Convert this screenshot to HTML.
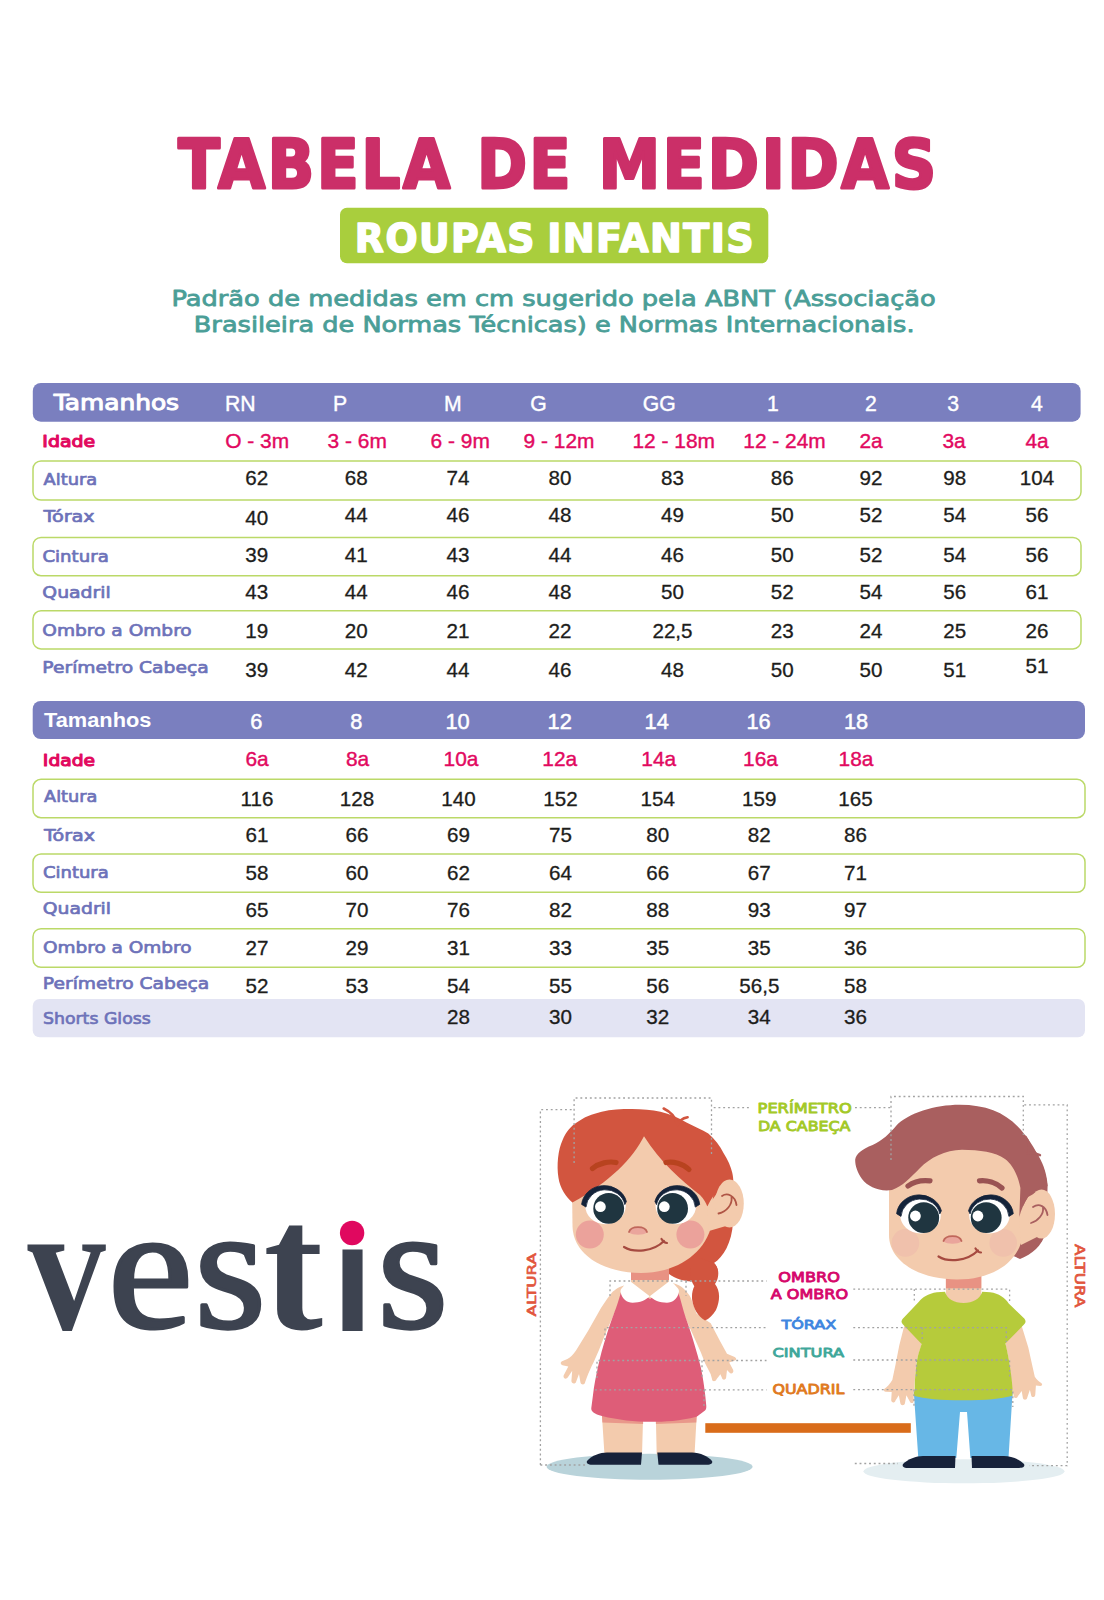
<!DOCTYPE html>
<html lang="pt-BR">
<head>
<meta charset="utf-8">
<title>Tabela de Medidas - Roupas Infantis</title>
<style>
html,body{margin:0;padding:0;background:#ffffff;}
body{width:1104px;height:1600px;overflow:hidden;}
svg{display:block;}
text{white-space:pre;}
</style>
</head>
<body>
<svg width="1104" height="1600" viewBox="0 0 1104 1600">
<rect width="1104" height="1600" fill="#ffffff"/>
<text transform="translate(178.32,187.99) scale(0.9236,1.0140)" fill="#cb2f68" stroke="#cb2f68" stroke-width="3" stroke-linejoin="round" font-size="66" font-family='"DejaVu Sans", "Liberation Sans", sans-serif' font-weight="bold" letter-spacing="3">TABELA</text>
<text transform="translate(477.16,187.99) scale(0.9074,1.0140)" fill="#cb2f68" stroke="#cb2f68" stroke-width="3" stroke-linejoin="round" font-size="66" font-family='"DejaVu Sans", "Liberation Sans", sans-serif' font-weight="bold" letter-spacing="3">DE</text>
<text transform="translate(598.73,187.99) scale(0.9337,1.0140)" fill="#cb2f68" stroke="#cb2f68" stroke-width="3" stroke-linejoin="round" font-size="66" font-family='"DejaVu Sans", "Liberation Sans", sans-serif' font-weight="bold" letter-spacing="3">MEDIDAS</text>
<rect x="340" y="207.8" width="428.3" height="55.5" rx="7" fill="#a9ce3d"/>
<text transform="translate(354.86,252.33) scale(0.9454,0.9688)" fill="#ffffff" stroke="#ffffff" stroke-width="1.6" stroke-linejoin="round" font-size="40" font-family='"DejaVu Sans", "Liberation Sans", sans-serif' font-weight="bold" letter-spacing="1.5">ROUPAS</text>
<text transform="translate(547.24,252.33) scale(0.9519,0.9688)" fill="#ffffff" stroke="#ffffff" stroke-width="1.6" stroke-linejoin="round" font-size="40" font-family='"DejaVu Sans", "Liberation Sans", sans-serif' font-weight="bold" letter-spacing="1.5">INFANTIS</text>
<text transform="translate(171.41,305.80) scale(1.1950,1.0000)" fill="#4a9e97" stroke="#4a9e97" stroke-width="0.8" stroke-linejoin="round" font-size="21.5" font-family='"DejaVu Sans", "Liberation Sans", sans-serif'>Padrão de medidas em cm sugerido pela ABNT (Associação</text>
<text transform="translate(193.82,332.20) scale(1.1907,1.0000)" fill="#4a9e97" stroke="#4a9e97" stroke-width="0.8" stroke-linejoin="round" font-size="21.5" font-family='"DejaVu Sans", "Liberation Sans", sans-serif'>Brasileira de Normas Técnicas) e Normas Internacionais.</text>
<rect x="32.8" y="383" width="1047.8" height="38.7" rx="8" fill="#7a7fbf"/>
<text transform="translate(53.77,410.20) scale(1.1667,1.0000)" fill="#ffffff" stroke="#ffffff" stroke-width="1.0" stroke-linejoin="round" font-size="21.3" font-family='"DejaVu Sans", "Liberation Sans", sans-serif'>Tamanhos</text>
<rect x="33" y="461" width="1048" height="39.0" rx="8" fill="none" stroke="#bbd968" stroke-width="1.5"/>
<rect x="33" y="537.5" width="1048" height="38.2" rx="8" fill="none" stroke="#bbd968" stroke-width="1.5"/>
<rect x="33" y="610.8" width="1048" height="38.1" rx="8" fill="none" stroke="#bbd968" stroke-width="1.5"/>
<text x="240.2" y="410.8" font-size="21.2" fill="#ffffff" font-family='"Liberation Sans", sans-serif' text-anchor="middle" stroke="#ffffff" stroke-width="0.4">RN</text>
<text x="340" y="410.8" font-size="21.2" fill="#ffffff" font-family='"Liberation Sans", sans-serif' text-anchor="middle" stroke="#ffffff" stroke-width="0.4">P</text>
<text x="452.9" y="410.8" font-size="21.2" fill="#ffffff" font-family='"Liberation Sans", sans-serif' text-anchor="middle" stroke="#ffffff" stroke-width="0.4">M</text>
<text x="538.4" y="410.8" font-size="21.2" fill="#ffffff" font-family='"Liberation Sans", sans-serif' text-anchor="middle" stroke="#ffffff" stroke-width="0.4">G</text>
<text x="659.2" y="410.8" font-size="21.2" fill="#ffffff" font-family='"Liberation Sans", sans-serif' text-anchor="middle" stroke="#ffffff" stroke-width="0.4">GG</text>
<text x="773" y="410.8" font-size="21.2" fill="#ffffff" font-family='"Liberation Sans", sans-serif' text-anchor="middle" stroke="#ffffff" stroke-width="0.4">1</text>
<text x="871" y="410.8" font-size="21.2" fill="#ffffff" font-family='"Liberation Sans", sans-serif' text-anchor="middle" stroke="#ffffff" stroke-width="0.4">2</text>
<text x="953.2" y="410.8" font-size="21.2" fill="#ffffff" font-family='"Liberation Sans", sans-serif' text-anchor="middle" stroke="#ffffff" stroke-width="0.4">3</text>
<text x="1037" y="410.8" font-size="21.2" fill="#ffffff" font-family='"Liberation Sans", sans-serif' text-anchor="middle" stroke="#ffffff" stroke-width="0.4">4</text>
<text x="257.2" y="448.2" font-size="20.9" fill="#e2095f" font-family='"Liberation Sans", sans-serif' text-anchor="middle" stroke="#e2095f" stroke-width="0.4">O - 3m</text>
<text x="357.2" y="448.2" font-size="20.9" fill="#e2095f" font-family='"Liberation Sans", sans-serif' text-anchor="middle" stroke="#e2095f" stroke-width="0.4">3 - 6m</text>
<text x="460.2" y="448.2" font-size="20.9" fill="#e2095f" font-family='"Liberation Sans", sans-serif' text-anchor="middle" stroke="#e2095f" stroke-width="0.4">6 - 9m</text>
<text x="559" y="448.2" font-size="20.9" fill="#e2095f" font-family='"Liberation Sans", sans-serif' text-anchor="middle" stroke="#e2095f" stroke-width="0.4">9 - 12m</text>
<text x="673.7" y="448.2" font-size="20.9" fill="#e2095f" font-family='"Liberation Sans", sans-serif' text-anchor="middle" stroke="#e2095f" stroke-width="0.4">12 - 18m</text>
<text x="784.5" y="448.2" font-size="20.9" fill="#e2095f" font-family='"Liberation Sans", sans-serif' text-anchor="middle" stroke="#e2095f" stroke-width="0.4">12 - 24m</text>
<text x="871" y="448.2" font-size="20.9" fill="#e2095f" font-family='"Liberation Sans", sans-serif' text-anchor="middle" stroke="#e2095f" stroke-width="0.4">2a</text>
<text x="954" y="448.2" font-size="20.9" fill="#e2095f" font-family='"Liberation Sans", sans-serif' text-anchor="middle" stroke="#e2095f" stroke-width="0.4">3a</text>
<text x="1037" y="448.2" font-size="20.9" fill="#e2095f" font-family='"Liberation Sans", sans-serif' text-anchor="middle" stroke="#e2095f" stroke-width="0.4">4a</text>
<text x="256.7" y="485" font-size="20.6" fill="#1d1d1b" font-family='"Liberation Sans", sans-serif' text-anchor="middle" stroke="#1d1d1b" stroke-width="0.3">62</text>
<text x="356.3" y="485" font-size="20.6" fill="#1d1d1b" font-family='"Liberation Sans", sans-serif' text-anchor="middle" stroke="#1d1d1b" stroke-width="0.3">68</text>
<text x="458" y="485" font-size="20.6" fill="#1d1d1b" font-family='"Liberation Sans", sans-serif' text-anchor="middle" stroke="#1d1d1b" stroke-width="0.3">74</text>
<text x="560" y="485" font-size="20.6" fill="#1d1d1b" font-family='"Liberation Sans", sans-serif' text-anchor="middle" stroke="#1d1d1b" stroke-width="0.3">80</text>
<text x="672.5" y="485" font-size="20.6" fill="#1d1d1b" font-family='"Liberation Sans", sans-serif' text-anchor="middle" stroke="#1d1d1b" stroke-width="0.3">83</text>
<text x="782.3" y="485" font-size="20.6" fill="#1d1d1b" font-family='"Liberation Sans", sans-serif' text-anchor="middle" stroke="#1d1d1b" stroke-width="0.3">86</text>
<text x="871" y="485" font-size="20.6" fill="#1d1d1b" font-family='"Liberation Sans", sans-serif' text-anchor="middle" stroke="#1d1d1b" stroke-width="0.3">92</text>
<text x="954.7" y="485" font-size="20.6" fill="#1d1d1b" font-family='"Liberation Sans", sans-serif' text-anchor="middle" stroke="#1d1d1b" stroke-width="0.3">98</text>
<text x="1037" y="485" font-size="20.6" fill="#1d1d1b" font-family='"Liberation Sans", sans-serif' text-anchor="middle" stroke="#1d1d1b" stroke-width="0.3">104</text>
<text x="256.7" y="525" font-size="20.6" fill="#1d1d1b" font-family='"Liberation Sans", sans-serif' text-anchor="middle" stroke="#1d1d1b" stroke-width="0.3">40</text>
<text x="356.3" y="521.7" font-size="20.6" fill="#1d1d1b" font-family='"Liberation Sans", sans-serif' text-anchor="middle" stroke="#1d1d1b" stroke-width="0.3">44</text>
<text x="458" y="521.7" font-size="20.6" fill="#1d1d1b" font-family='"Liberation Sans", sans-serif' text-anchor="middle" stroke="#1d1d1b" stroke-width="0.3">46</text>
<text x="560" y="521.7" font-size="20.6" fill="#1d1d1b" font-family='"Liberation Sans", sans-serif' text-anchor="middle" stroke="#1d1d1b" stroke-width="0.3">48</text>
<text x="672.5" y="521.7" font-size="20.6" fill="#1d1d1b" font-family='"Liberation Sans", sans-serif' text-anchor="middle" stroke="#1d1d1b" stroke-width="0.3">49</text>
<text x="782.3" y="521.7" font-size="20.6" fill="#1d1d1b" font-family='"Liberation Sans", sans-serif' text-anchor="middle" stroke="#1d1d1b" stroke-width="0.3">50</text>
<text x="871" y="521.7" font-size="20.6" fill="#1d1d1b" font-family='"Liberation Sans", sans-serif' text-anchor="middle" stroke="#1d1d1b" stroke-width="0.3">52</text>
<text x="954.7" y="521.7" font-size="20.6" fill="#1d1d1b" font-family='"Liberation Sans", sans-serif' text-anchor="middle" stroke="#1d1d1b" stroke-width="0.3">54</text>
<text x="1037" y="521.7" font-size="20.6" fill="#1d1d1b" font-family='"Liberation Sans", sans-serif' text-anchor="middle" stroke="#1d1d1b" stroke-width="0.3">56</text>
<text x="256.7" y="562.3" font-size="20.6" fill="#1d1d1b" font-family='"Liberation Sans", sans-serif' text-anchor="middle" stroke="#1d1d1b" stroke-width="0.3">39</text>
<text x="356.3" y="562.3" font-size="20.6" fill="#1d1d1b" font-family='"Liberation Sans", sans-serif' text-anchor="middle" stroke="#1d1d1b" stroke-width="0.3">41</text>
<text x="458" y="562.3" font-size="20.6" fill="#1d1d1b" font-family='"Liberation Sans", sans-serif' text-anchor="middle" stroke="#1d1d1b" stroke-width="0.3">43</text>
<text x="560" y="562.3" font-size="20.6" fill="#1d1d1b" font-family='"Liberation Sans", sans-serif' text-anchor="middle" stroke="#1d1d1b" stroke-width="0.3">44</text>
<text x="672.5" y="562.3" font-size="20.6" fill="#1d1d1b" font-family='"Liberation Sans", sans-serif' text-anchor="middle" stroke="#1d1d1b" stroke-width="0.3">46</text>
<text x="782.3" y="562.3" font-size="20.6" fill="#1d1d1b" font-family='"Liberation Sans", sans-serif' text-anchor="middle" stroke="#1d1d1b" stroke-width="0.3">50</text>
<text x="871" y="562.3" font-size="20.6" fill="#1d1d1b" font-family='"Liberation Sans", sans-serif' text-anchor="middle" stroke="#1d1d1b" stroke-width="0.3">52</text>
<text x="954.7" y="562.3" font-size="20.6" fill="#1d1d1b" font-family='"Liberation Sans", sans-serif' text-anchor="middle" stroke="#1d1d1b" stroke-width="0.3">54</text>
<text x="1037" y="562.3" font-size="20.6" fill="#1d1d1b" font-family='"Liberation Sans", sans-serif' text-anchor="middle" stroke="#1d1d1b" stroke-width="0.3">56</text>
<text x="256.7" y="599.3" font-size="20.6" fill="#1d1d1b" font-family='"Liberation Sans", sans-serif' text-anchor="middle" stroke="#1d1d1b" stroke-width="0.3">43</text>
<text x="356.3" y="599.3" font-size="20.6" fill="#1d1d1b" font-family='"Liberation Sans", sans-serif' text-anchor="middle" stroke="#1d1d1b" stroke-width="0.3">44</text>
<text x="458" y="599.3" font-size="20.6" fill="#1d1d1b" font-family='"Liberation Sans", sans-serif' text-anchor="middle" stroke="#1d1d1b" stroke-width="0.3">46</text>
<text x="560" y="599.3" font-size="20.6" fill="#1d1d1b" font-family='"Liberation Sans", sans-serif' text-anchor="middle" stroke="#1d1d1b" stroke-width="0.3">48</text>
<text x="672.5" y="599.3" font-size="20.6" fill="#1d1d1b" font-family='"Liberation Sans", sans-serif' text-anchor="middle" stroke="#1d1d1b" stroke-width="0.3">50</text>
<text x="782.3" y="599.3" font-size="20.6" fill="#1d1d1b" font-family='"Liberation Sans", sans-serif' text-anchor="middle" stroke="#1d1d1b" stroke-width="0.3">52</text>
<text x="871" y="599.3" font-size="20.6" fill="#1d1d1b" font-family='"Liberation Sans", sans-serif' text-anchor="middle" stroke="#1d1d1b" stroke-width="0.3">54</text>
<text x="954.7" y="599.3" font-size="20.6" fill="#1d1d1b" font-family='"Liberation Sans", sans-serif' text-anchor="middle" stroke="#1d1d1b" stroke-width="0.3">56</text>
<text x="1037" y="599.3" font-size="20.6" fill="#1d1d1b" font-family='"Liberation Sans", sans-serif' text-anchor="middle" stroke="#1d1d1b" stroke-width="0.3">61</text>
<text x="256.7" y="638.3" font-size="20.6" fill="#1d1d1b" font-family='"Liberation Sans", sans-serif' text-anchor="middle" stroke="#1d1d1b" stroke-width="0.3">19</text>
<text x="356.3" y="638.3" font-size="20.6" fill="#1d1d1b" font-family='"Liberation Sans", sans-serif' text-anchor="middle" stroke="#1d1d1b" stroke-width="0.3">20</text>
<text x="458" y="638.3" font-size="20.6" fill="#1d1d1b" font-family='"Liberation Sans", sans-serif' text-anchor="middle" stroke="#1d1d1b" stroke-width="0.3">21</text>
<text x="560" y="638.3" font-size="20.6" fill="#1d1d1b" font-family='"Liberation Sans", sans-serif' text-anchor="middle" stroke="#1d1d1b" stroke-width="0.3">22</text>
<text x="672.5" y="638.3" font-size="20.6" fill="#1d1d1b" font-family='"Liberation Sans", sans-serif' text-anchor="middle" stroke="#1d1d1b" stroke-width="0.3">22,5</text>
<text x="782.3" y="638.3" font-size="20.6" fill="#1d1d1b" font-family='"Liberation Sans", sans-serif' text-anchor="middle" stroke="#1d1d1b" stroke-width="0.3">23</text>
<text x="871" y="638.3" font-size="20.6" fill="#1d1d1b" font-family='"Liberation Sans", sans-serif' text-anchor="middle" stroke="#1d1d1b" stroke-width="0.3">24</text>
<text x="954.7" y="638.3" font-size="20.6" fill="#1d1d1b" font-family='"Liberation Sans", sans-serif' text-anchor="middle" stroke="#1d1d1b" stroke-width="0.3">25</text>
<text x="1037" y="638.3" font-size="20.6" fill="#1d1d1b" font-family='"Liberation Sans", sans-serif' text-anchor="middle" stroke="#1d1d1b" stroke-width="0.3">26</text>
<text x="256.7" y="676.7" font-size="20.6" fill="#1d1d1b" font-family='"Liberation Sans", sans-serif' text-anchor="middle" stroke="#1d1d1b" stroke-width="0.3">39</text>
<text x="356.3" y="676.7" font-size="20.6" fill="#1d1d1b" font-family='"Liberation Sans", sans-serif' text-anchor="middle" stroke="#1d1d1b" stroke-width="0.3">42</text>
<text x="458" y="676.7" font-size="20.6" fill="#1d1d1b" font-family='"Liberation Sans", sans-serif' text-anchor="middle" stroke="#1d1d1b" stroke-width="0.3">44</text>
<text x="560" y="676.7" font-size="20.6" fill="#1d1d1b" font-family='"Liberation Sans", sans-serif' text-anchor="middle" stroke="#1d1d1b" stroke-width="0.3">46</text>
<text x="672.5" y="676.7" font-size="20.6" fill="#1d1d1b" font-family='"Liberation Sans", sans-serif' text-anchor="middle" stroke="#1d1d1b" stroke-width="0.3">48</text>
<text x="782.3" y="676.7" font-size="20.6" fill="#1d1d1b" font-family='"Liberation Sans", sans-serif' text-anchor="middle" stroke="#1d1d1b" stroke-width="0.3">50</text>
<text x="871" y="676.7" font-size="20.6" fill="#1d1d1b" font-family='"Liberation Sans", sans-serif' text-anchor="middle" stroke="#1d1d1b" stroke-width="0.3">50</text>
<text x="954.7" y="676.7" font-size="20.6" fill="#1d1d1b" font-family='"Liberation Sans", sans-serif' text-anchor="middle" stroke="#1d1d1b" stroke-width="0.3">51</text>
<text x="1037" y="673.3" font-size="20.6" fill="#1d1d1b" font-family='"Liberation Sans", sans-serif' text-anchor="middle" stroke="#1d1d1b" stroke-width="0.3">51</text>
<text transform="translate(42.35,447.00) scale(1.1467,1.0000)" fill="#e2095f" stroke="#e2095f" stroke-width="1.1" stroke-linejoin="round" font-size="16.5" font-family='"DejaVu Sans", "Liberation Sans", sans-serif'>Idade</text>
<text transform="translate(43.50,485.40) scale(1.0816,1.0000)" fill="#6d72b9" stroke="#6d72b9" stroke-width="0.7" stroke-linejoin="round" font-size="16.5" font-family='"DejaVu Sans", "Liberation Sans", sans-serif'>Altura</text>
<text transform="translate(43.50,522.30) scale(1.1636,1.0000)" fill="#6d72b9" stroke="#6d72b9" stroke-width="0.7" stroke-linejoin="round" font-size="16.5" font-family='"DejaVu Sans", "Liberation Sans", sans-serif'>Tórax</text>
<text transform="translate(42.40,561.80) scale(1.1000,1.0000)" fill="#6d72b9" stroke="#6d72b9" stroke-width="0.7" stroke-linejoin="round" font-size="16.5" font-family='"DejaVu Sans", "Liberation Sans", sans-serif'>Cintura</text>
<text transform="translate(42.36,598.00) scale(1.1414,1.0000)" fill="#6d72b9" stroke="#6d72b9" stroke-width="0.7" stroke-linejoin="round" font-size="16.5" font-family='"DejaVu Sans", "Liberation Sans", sans-serif'>Quadril</text>
<text transform="translate(42.37,635.50) scale(1.1260,1.0000)" fill="#6d72b9" stroke="#6d72b9" stroke-width="0.7" stroke-linejoin="round" font-size="16.5" font-family='"DejaVu Sans", "Liberation Sans", sans-serif'>Ombro a Ombro</text>
<text transform="translate(42.37,673.30) scale(1.1338,1.0000)" fill="#6d72b9" stroke="#6d72b9" stroke-width="0.7" stroke-linejoin="round" font-size="16.5" font-family='"DejaVu Sans", "Liberation Sans", sans-serif'>Perímetro Cabeça</text>
<rect x="32.7" y="701" width="1052.3" height="38" rx="8" fill="#7a7fbf"/>
<text transform="translate(44.00,726.70) scale(1.0392,1.0000)" fill="#ffffff" font-size="21" font-family='"Liberation Sans", sans-serif' font-weight="bold">Tamanhos</text>
<rect x="32.7" y="999" width="1052.3" height="38.3" rx="7" fill="#e3e4f3"/>
<rect x="33" y="779.3" width="1052" height="38.4" rx="8" fill="none" stroke="#bbd968" stroke-width="1.5"/>
<rect x="33" y="854" width="1052" height="38.3" rx="8" fill="none" stroke="#bbd968" stroke-width="1.5"/>
<rect x="33" y="928.7" width="1052" height="38.6" rx="8" fill="none" stroke="#bbd968" stroke-width="1.5"/>
<text x="256.3" y="728.8" font-size="21.8" fill="#ffffff" font-family='"Liberation Sans", sans-serif' text-anchor="middle" stroke="#ffffff" stroke-width="0.5">6</text>
<text x="356.3" y="728.8" font-size="21.8" fill="#ffffff" font-family='"Liberation Sans", sans-serif' text-anchor="middle" stroke="#ffffff" stroke-width="0.5">8</text>
<text x="457.5" y="728.8" font-size="21.8" fill="#ffffff" font-family='"Liberation Sans", sans-serif' text-anchor="middle" stroke="#ffffff" stroke-width="0.5">10</text>
<text x="559.7" y="728.8" font-size="21.8" fill="#ffffff" font-family='"Liberation Sans", sans-serif' text-anchor="middle" stroke="#ffffff" stroke-width="0.5">12</text>
<text x="656.7" y="728.8" font-size="21.8" fill="#ffffff" font-family='"Liberation Sans", sans-serif' text-anchor="middle" stroke="#ffffff" stroke-width="0.5">14</text>
<text x="758.5" y="728.8" font-size="21.8" fill="#ffffff" font-family='"Liberation Sans", sans-serif' text-anchor="middle" stroke="#ffffff" stroke-width="0.5">16</text>
<text x="856" y="728.8" font-size="21.8" fill="#ffffff" font-family='"Liberation Sans", sans-serif' text-anchor="middle" stroke="#ffffff" stroke-width="0.5">18</text>
<text x="257" y="765.5" font-size="20.9" fill="#e2095f" font-family='"Liberation Sans", sans-serif' text-anchor="middle" stroke="#e2095f" stroke-width="0.4">6a</text>
<text x="357.5" y="765.5" font-size="20.9" fill="#e2095f" font-family='"Liberation Sans", sans-serif' text-anchor="middle" stroke="#e2095f" stroke-width="0.4">8a</text>
<text x="461" y="765.5" font-size="20.9" fill="#e2095f" font-family='"Liberation Sans", sans-serif' text-anchor="middle" stroke="#e2095f" stroke-width="0.4">10a</text>
<text x="559.7" y="765.5" font-size="20.9" fill="#e2095f" font-family='"Liberation Sans", sans-serif' text-anchor="middle" stroke="#e2095f" stroke-width="0.4">12a</text>
<text x="658.7" y="765.5" font-size="20.9" fill="#e2095f" font-family='"Liberation Sans", sans-serif' text-anchor="middle" stroke="#e2095f" stroke-width="0.4">14a</text>
<text x="760.5" y="765.5" font-size="20.9" fill="#e2095f" font-family='"Liberation Sans", sans-serif' text-anchor="middle" stroke="#e2095f" stroke-width="0.4">16a</text>
<text x="856" y="765.5" font-size="20.9" fill="#e2095f" font-family='"Liberation Sans", sans-serif' text-anchor="middle" stroke="#e2095f" stroke-width="0.4">18a</text>
<text x="257" y="805.7" font-size="20.6" fill="#1d1d1b" font-family='"Liberation Sans", sans-serif' text-anchor="middle" stroke="#1d1d1b" stroke-width="0.3">116</text>
<text x="357" y="805.7" font-size="20.6" fill="#1d1d1b" font-family='"Liberation Sans", sans-serif' text-anchor="middle" stroke="#1d1d1b" stroke-width="0.3">128</text>
<text x="458.5" y="805.7" font-size="20.6" fill="#1d1d1b" font-family='"Liberation Sans", sans-serif' text-anchor="middle" stroke="#1d1d1b" stroke-width="0.3">140</text>
<text x="560.5" y="805.7" font-size="20.6" fill="#1d1d1b" font-family='"Liberation Sans", sans-serif' text-anchor="middle" stroke="#1d1d1b" stroke-width="0.3">152</text>
<text x="657.7" y="805.7" font-size="20.6" fill="#1d1d1b" font-family='"Liberation Sans", sans-serif' text-anchor="middle" stroke="#1d1d1b" stroke-width="0.3">154</text>
<text x="759.3" y="805.7" font-size="20.6" fill="#1d1d1b" font-family='"Liberation Sans", sans-serif' text-anchor="middle" stroke="#1d1d1b" stroke-width="0.3">159</text>
<text x="855.5" y="805.7" font-size="20.6" fill="#1d1d1b" font-family='"Liberation Sans", sans-serif' text-anchor="middle" stroke="#1d1d1b" stroke-width="0.3">165</text>
<text x="257" y="842.3" font-size="20.6" fill="#1d1d1b" font-family='"Liberation Sans", sans-serif' text-anchor="middle" stroke="#1d1d1b" stroke-width="0.3">61</text>
<text x="357" y="842.3" font-size="20.6" fill="#1d1d1b" font-family='"Liberation Sans", sans-serif' text-anchor="middle" stroke="#1d1d1b" stroke-width="0.3">66</text>
<text x="458.5" y="842.3" font-size="20.6" fill="#1d1d1b" font-family='"Liberation Sans", sans-serif' text-anchor="middle" stroke="#1d1d1b" stroke-width="0.3">69</text>
<text x="560.5" y="842.3" font-size="20.6" fill="#1d1d1b" font-family='"Liberation Sans", sans-serif' text-anchor="middle" stroke="#1d1d1b" stroke-width="0.3">75</text>
<text x="657.7" y="842.3" font-size="20.6" fill="#1d1d1b" font-family='"Liberation Sans", sans-serif' text-anchor="middle" stroke="#1d1d1b" stroke-width="0.3">80</text>
<text x="759.3" y="842.3" font-size="20.6" fill="#1d1d1b" font-family='"Liberation Sans", sans-serif' text-anchor="middle" stroke="#1d1d1b" stroke-width="0.3">82</text>
<text x="855.5" y="842.3" font-size="20.6" fill="#1d1d1b" font-family='"Liberation Sans", sans-serif' text-anchor="middle" stroke="#1d1d1b" stroke-width="0.3">86</text>
<text x="257" y="880" font-size="20.6" fill="#1d1d1b" font-family='"Liberation Sans", sans-serif' text-anchor="middle" stroke="#1d1d1b" stroke-width="0.3">58</text>
<text x="357" y="880" font-size="20.6" fill="#1d1d1b" font-family='"Liberation Sans", sans-serif' text-anchor="middle" stroke="#1d1d1b" stroke-width="0.3">60</text>
<text x="458.5" y="880" font-size="20.6" fill="#1d1d1b" font-family='"Liberation Sans", sans-serif' text-anchor="middle" stroke="#1d1d1b" stroke-width="0.3">62</text>
<text x="560.5" y="880" font-size="20.6" fill="#1d1d1b" font-family='"Liberation Sans", sans-serif' text-anchor="middle" stroke="#1d1d1b" stroke-width="0.3">64</text>
<text x="657.7" y="880" font-size="20.6" fill="#1d1d1b" font-family='"Liberation Sans", sans-serif' text-anchor="middle" stroke="#1d1d1b" stroke-width="0.3">66</text>
<text x="759.3" y="880" font-size="20.6" fill="#1d1d1b" font-family='"Liberation Sans", sans-serif' text-anchor="middle" stroke="#1d1d1b" stroke-width="0.3">67</text>
<text x="855.5" y="880" font-size="20.6" fill="#1d1d1b" font-family='"Liberation Sans", sans-serif' text-anchor="middle" stroke="#1d1d1b" stroke-width="0.3">71</text>
<text x="257" y="916.7" font-size="20.6" fill="#1d1d1b" font-family='"Liberation Sans", sans-serif' text-anchor="middle" stroke="#1d1d1b" stroke-width="0.3">65</text>
<text x="357" y="916.7" font-size="20.6" fill="#1d1d1b" font-family='"Liberation Sans", sans-serif' text-anchor="middle" stroke="#1d1d1b" stroke-width="0.3">70</text>
<text x="458.5" y="916.7" font-size="20.6" fill="#1d1d1b" font-family='"Liberation Sans", sans-serif' text-anchor="middle" stroke="#1d1d1b" stroke-width="0.3">76</text>
<text x="560.5" y="916.7" font-size="20.6" fill="#1d1d1b" font-family='"Liberation Sans", sans-serif' text-anchor="middle" stroke="#1d1d1b" stroke-width="0.3">82</text>
<text x="657.7" y="916.7" font-size="20.6" fill="#1d1d1b" font-family='"Liberation Sans", sans-serif' text-anchor="middle" stroke="#1d1d1b" stroke-width="0.3">88</text>
<text x="759.3" y="916.7" font-size="20.6" fill="#1d1d1b" font-family='"Liberation Sans", sans-serif' text-anchor="middle" stroke="#1d1d1b" stroke-width="0.3">93</text>
<text x="855.5" y="916.7" font-size="20.6" fill="#1d1d1b" font-family='"Liberation Sans", sans-serif' text-anchor="middle" stroke="#1d1d1b" stroke-width="0.3">97</text>
<text x="257" y="955" font-size="20.6" fill="#1d1d1b" font-family='"Liberation Sans", sans-serif' text-anchor="middle" stroke="#1d1d1b" stroke-width="0.3">27</text>
<text x="357" y="955" font-size="20.6" fill="#1d1d1b" font-family='"Liberation Sans", sans-serif' text-anchor="middle" stroke="#1d1d1b" stroke-width="0.3">29</text>
<text x="458.5" y="955" font-size="20.6" fill="#1d1d1b" font-family='"Liberation Sans", sans-serif' text-anchor="middle" stroke="#1d1d1b" stroke-width="0.3">31</text>
<text x="560.5" y="955" font-size="20.6" fill="#1d1d1b" font-family='"Liberation Sans", sans-serif' text-anchor="middle" stroke="#1d1d1b" stroke-width="0.3">33</text>
<text x="657.7" y="955" font-size="20.6" fill="#1d1d1b" font-family='"Liberation Sans", sans-serif' text-anchor="middle" stroke="#1d1d1b" stroke-width="0.3">35</text>
<text x="759.3" y="955" font-size="20.6" fill="#1d1d1b" font-family='"Liberation Sans", sans-serif' text-anchor="middle" stroke="#1d1d1b" stroke-width="0.3">35</text>
<text x="855.5" y="955" font-size="20.6" fill="#1d1d1b" font-family='"Liberation Sans", sans-serif' text-anchor="middle" stroke="#1d1d1b" stroke-width="0.3">36</text>
<text x="257" y="992.7" font-size="20.6" fill="#1d1d1b" font-family='"Liberation Sans", sans-serif' text-anchor="middle" stroke="#1d1d1b" stroke-width="0.3">52</text>
<text x="357" y="992.7" font-size="20.6" fill="#1d1d1b" font-family='"Liberation Sans", sans-serif' text-anchor="middle" stroke="#1d1d1b" stroke-width="0.3">53</text>
<text x="458.5" y="992.7" font-size="20.6" fill="#1d1d1b" font-family='"Liberation Sans", sans-serif' text-anchor="middle" stroke="#1d1d1b" stroke-width="0.3">54</text>
<text x="560.5" y="992.7" font-size="20.6" fill="#1d1d1b" font-family='"Liberation Sans", sans-serif' text-anchor="middle" stroke="#1d1d1b" stroke-width="0.3">55</text>
<text x="657.7" y="992.7" font-size="20.6" fill="#1d1d1b" font-family='"Liberation Sans", sans-serif' text-anchor="middle" stroke="#1d1d1b" stroke-width="0.3">56</text>
<text x="759.3" y="992.7" font-size="20.6" fill="#1d1d1b" font-family='"Liberation Sans", sans-serif' text-anchor="middle" stroke="#1d1d1b" stroke-width="0.3">56,5</text>
<text x="855.5" y="992.7" font-size="20.6" fill="#1d1d1b" font-family='"Liberation Sans", sans-serif' text-anchor="middle" stroke="#1d1d1b" stroke-width="0.3">58</text>
<text x="458.5" y="1024.3" font-size="20.6" fill="#1d1d1b" font-family='"Liberation Sans", sans-serif' text-anchor="middle" stroke="#1d1d1b" stroke-width="0.3">28</text>
<text x="560.5" y="1024.3" font-size="20.6" fill="#1d1d1b" font-family='"Liberation Sans", sans-serif' text-anchor="middle" stroke="#1d1d1b" stroke-width="0.3">30</text>
<text x="657.7" y="1024.3" font-size="20.6" fill="#1d1d1b" font-family='"Liberation Sans", sans-serif' text-anchor="middle" stroke="#1d1d1b" stroke-width="0.3">32</text>
<text x="759.3" y="1024.3" font-size="20.6" fill="#1d1d1b" font-family='"Liberation Sans", sans-serif' text-anchor="middle" stroke="#1d1d1b" stroke-width="0.3">34</text>
<text x="855.5" y="1024.3" font-size="20.6" fill="#1d1d1b" font-family='"Liberation Sans", sans-serif' text-anchor="middle" stroke="#1d1d1b" stroke-width="0.3">36</text>
<text transform="translate(42.87,765.70) scale(1.1333,1.0000)" fill="#e2095f" stroke="#e2095f" stroke-width="1.1" stroke-linejoin="round" font-size="16.5" font-family='"DejaVu Sans", "Liberation Sans", sans-serif'>Idade</text>
<text transform="translate(44.00,802.30) scale(1.0755,1.0000)" fill="#6d72b9" stroke="#6d72b9" stroke-width="0.7" stroke-linejoin="round" font-size="16.5" font-family='"DejaVu Sans", "Liberation Sans", sans-serif'>Altura</text>
<text transform="translate(44.00,841.00) scale(1.1591,1.0000)" fill="#6d72b9" stroke="#6d72b9" stroke-width="0.7" stroke-linejoin="round" font-size="16.5" font-family='"DejaVu Sans", "Liberation Sans", sans-serif'>Tórax</text>
<text transform="translate(42.91,877.70) scale(1.0914,1.0000)" fill="#6d72b9" stroke="#6d72b9" stroke-width="0.7" stroke-linejoin="round" font-size="16.5" font-family='"DejaVu Sans", "Liberation Sans", sans-serif'>Cintura</text>
<text transform="translate(42.86,914.00) scale(1.1379,1.0000)" fill="#6d72b9" stroke="#6d72b9" stroke-width="0.7" stroke-linejoin="round" font-size="16.5" font-family='"DejaVu Sans", "Liberation Sans", sans-serif'>Quadril</text>
<text transform="translate(42.88,952.70) scale(1.1221,1.0000)" fill="#6d72b9" stroke="#6d72b9" stroke-width="0.7" stroke-linejoin="round" font-size="16.5" font-family='"DejaVu Sans", "Liberation Sans", sans-serif'>Ombro a Ombro</text>
<text transform="translate(42.87,989.00) scale(1.1331,1.0000)" fill="#6d72b9" stroke="#6d72b9" stroke-width="0.7" stroke-linejoin="round" font-size="16.5" font-family='"DejaVu Sans", "Liberation Sans", sans-serif'>Perímetro Cabeça</text>
<text transform="translate(42.95,1024.30) scale(1.0495,1.0000)" fill="#6d72b9" stroke="#6d72b9" stroke-width="0.7" stroke-linejoin="round" font-size="16.5" font-family='"DejaVu Sans", "Liberation Sans", sans-serif'>Shorts Gloss</text>
<g id="logo"><clipPath id="lc"><path d="M0,1200 H338 V1247 H368 V1200 H480 V1360 H0 Z"/></clipPath><text fill="#3d4350" clip-path="url(#lc)"><tspan x="27.40" y="1328.51" font-size="184.93" font-family='"Liberation Serif", serif' font-weight="bold" textLength="78.30" lengthAdjust="spacingAndGlyphs">v</tspan><tspan x="107.79" y="1327.23" font-size="175.31" font-family='"Liberation Serif", serif' font-weight="normal" textLength="85.43" lengthAdjust="spacingAndGlyphs" stroke="#3d4350" stroke-width="3.20" stroke-linejoin="round">e</tspan><tspan x="194.34" y="1327.15" font-size="178.88" font-family='"Liberation Serif", serif' font-weight="normal" textLength="71.92" lengthAdjust="spacingAndGlyphs" stroke="#3d4350" stroke-width="3.27" stroke-linejoin="round">s</tspan><tspan x="263.42" y="1329.04" font-size="181.83" font-family='"Liberation Serif", serif' font-weight="bold" textLength="59.50" lengthAdjust="spacingAndGlyphs">t</tspan><tspan x="332.17" y="1330.80" font-size="153.42" font-family='"Liberation Sans", sans-serif' font-weight="bold" textLength="40.65" lengthAdjust="spacingAndGlyphs">i</tspan><tspan x="377.31" y="1327.15" font-size="178.88" font-family='"Liberation Serif", serif' font-weight="normal" textLength="71.09" lengthAdjust="spacingAndGlyphs" stroke="#3d4350" stroke-width="3.27" stroke-linejoin="round">s</tspan></text><circle cx="352.1" cy="1233" r="12.2" fill="#e0085f"/></g>
<g id="illus">
<ellipse cx="649.6" cy="1466.7" rx="103" ry="13" fill="#b9d3da"/>
<path fill="#d2553f" d="M600,1150 L733.3,1181 L733,1222 C732,1243 723,1257 714,1263 C716,1265 717.5,1268 718,1271 L691,1281.5 C684,1281 676,1279 669,1274 L640,1250 Z"/>
<path fill="#f3cbad" d="M624,1285.5 C618,1287 613,1291 610.9,1294 C606,1300 603,1305 601,1308 L588,1331 L576,1350.4 C573,1355 570,1357.5 567.4,1359 L562,1361.3 C560,1362.3 560.5,1364.5 562.5,1365.2 L568.3,1366.6 L563.6,1375.5 C562.8,1378.2 566,1379.8 567.7,1377.6 L572.2,1370.8 L571.4,1381 C571.4,1384 575.6,1384.5 576.2,1381.5 L579,1374 L580.4,1382.2 C581,1385.2 585,1385.2 585.2,1382 L587,1377 C589,1372 591,1367 593.5,1362.4 L599,1350 L606.5,1331 L622,1296 Z"/>
<path fill="#f3cbad" d="M672.6,1283 C677,1284 681,1286 683.5,1288.5 C687,1292 689.5,1295 691,1298.3 L696.5,1313.5 L710.7,1323.3 L720.4,1341.7 L727,1353.7 L734.7,1357 C736.7,1358 736.7,1360 734.7,1360.6 L729.2,1362.4 L733.2,1370 C734.2,1373 731,1374.6 729.4,1372.6 L727,1370 L726.2,1377 C726.2,1380 722.6,1380.6 722,1378 L720.4,1374.3 L716.7,1379 C715.7,1382 712,1382 712,1379 L710.7,1374.3 L705.2,1363.5 L700.9,1352.6 L685,1317 L676,1296 Z"/>
<path fill="#d2553f" d="M700,1258 L714,1263 C719,1267 720,1277 715,1284 C720,1290 720.5,1300 716,1310 C713,1315 709,1319 705,1320.5 C698,1316 693.5,1309 692.2,1300 C691.5,1295 692.5,1290 694.3,1286.3 C691.5,1282 690.5,1278 690.5,1273.5 L690,1268 Z"/>
<path fill="#f3cbad" d="M601.6,1410 L643.3,1410 L642,1455 L604.5,1455 Z M655.7,1410 L697,1410 L694.5,1455 L656.7,1455 Z"/>
<path fill="#e9988a" d="M601.6,1410 L643.3,1410 L643.1,1424 L602.4,1422.5 Z M655.7,1410 L697,1410 L696.3,1422.5 L655.9,1424 Z"/>
<path fill="#17223a" d="M587,1461 C592,1455.5 600,1452.6 607,1452.6 L642,1452.6 L641,1464.8 L592,1464.8 C588,1464.8 586,1463 587,1461 Z"/>
<path fill="#17223a" d="M657.3,1452.6 L692,1452.6 C700,1452.6 709,1457 712,1461 C713,1463 711,1464.8 707,1464.8 L658.5,1464.8 Z"/>
<rect x="631" y="1258" width="38" height="40" fill="#f3cbad"/>
<rect x="631" y="1258" width="38" height="22.3" fill="#e89283"/>
<path fill="#de5d78" d="M621,1292 L678,1292 C681,1300 683,1310 685.7,1317.8 C689,1327 692,1336 694.3,1344 C697,1353 699,1360 700.9,1367.8 C703,1378 704.5,1388 705.2,1395 L706.3,1406 C706.5,1409 705.5,1410.5 704,1411.3 C700,1414 698,1416 696.5,1416.7 C680,1421 665,1421.8 650,1421.8 C635,1421.8 618,1420 602,1416 C598,1415 595.5,1414 593.5,1412.4 C592,1411 591,1410 591.3,1408 L593,1395 C594,1386 596,1376 597.8,1367.8 C600,1357 603,1346 606.5,1335.2 C609,1327 611.5,1320 614,1313.5 C616.5,1307 618.5,1301 621,1292 Z"/>
<path fill="#f3cbad" d="M631,1280 L669,1280 L669,1286 L650,1299 L631,1286 Z"/>
<path fill="#ffffff" d="M630.5,1281.5 C627,1282.5 625,1284 624,1285.8 C621,1288.5 620,1290.5 620.7,1292.5 C622,1299 627,1302.8 632.6,1302.8 C640,1302.8 646,1300 649.75,1296.3 Z"/>
<path fill="#ffffff" d="M669,1281.5 C672.5,1282.5 674.5,1284 675.5,1285.8 C678.5,1288.5 679.5,1290.5 678.8,1292.5 C677.5,1299 672.5,1302.8 666.9,1302.8 C659.5,1302.8 653.5,1300 649.75,1296.3 Z"/>
<path fill="#f3cbad" d="M572,1185 L572.5,1226 C573,1255 604,1273 641,1273 C674,1273 702,1256 710.5,1229 L714,1185 C712,1150 690,1128 644,1128 C600,1128 572,1150 572,1185 Z"/>
<path fill="#d2553f" d="M572.4,1202.5 C566,1197 560,1188 558.5,1178 C556.5,1165 558,1150 562.6,1140 C566,1132 571,1126 576.7,1122.6 C584,1117 592,1114 601.7,1111.7 C611,1109.5 621,1109 632,1109 C642,1109 652,1110 660.4,1111.7 C670,1114 679,1118 686.5,1122.6 C695,1127 702,1130 708.3,1133.5 C715,1139 720,1146 723.5,1153 C728,1160 731,1167 732.2,1172.6 C733,1176 733.3,1179 733.3,1181.3 L733.3,1200 L722,1185 C716,1191 711,1199 707.3,1206.5 C706,1203 704,1199 700,1195 C682,1181 660,1162 644,1136.2 C633,1158 610,1182 572.4,1202.5 Z"/>
<path fill="none" stroke="#d2553f" stroke-width="2.6" stroke-linecap="round" d="M663.7,1108.5 C671,1112 676,1118 677.8,1125 M687.6,1117.2 C683,1118 679,1121 677.8,1125"/>
<path fill="#f3cbad" d="M707.3,1207 L722,1186 L730,1190 L726,1226 L709,1231 Z"/>
<ellipse cx="729.5" cy="1203.5" rx="14.3" ry="24" fill="#f3cbad"/>
<path fill="none" stroke="#b05545" stroke-width="1.8" stroke-linecap="round" d="M722,1196 C727,1192.5 735,1195 736.5,1205 M731.5,1197.5 C732.5,1204 727,1211.5 718.5,1213.5"/>
<path fill="none" stroke="#b8431f" stroke-width="5.2" stroke-linecap="round" d="M592.5,1168.5 C599,1163 609,1161 616,1162.5"/>
<path fill="none" stroke="#b8431f" stroke-width="5.2" stroke-linecap="round" d="M666,1162.5 C673,1161 683,1163.5 689,1169.5"/>
<circle cx="589.8" cy="1234.6" r="14" fill="#eba29b"/>
<circle cx="690.4" cy="1234.6" r="14" fill="#eba29b"/>
<ellipse cx="605.5" cy="1205.6" rx="20.3" ry="18.6" fill="#ffffff"/>
<circle cx="608.7" cy="1208.4" r="15.4" fill="#1f3540"/>
<circle cx="600.4" cy="1206.7" r="5.4" fill="#ffffff"/>
<path fill="#14233a" stroke="#14233a" stroke-width="0.8" stroke-linejoin="round" d="M581.6,1204.4 A22.8,21.0 0 0 1 626.4,1201.5 L624.8,1204.6 A19.6,18.4 0 0 0 586.0,1207.1 Z"/>
<ellipse cx="675.8" cy="1205.6" rx="20.3" ry="18.6" fill="#ffffff"/>
<circle cx="672.6" cy="1208.4" r="15.4" fill="#1f3540"/>
<circle cx="664.3" cy="1206.7" r="5.4" fill="#ffffff"/>
<path fill="#14233a" stroke="#14233a" stroke-width="0.8" stroke-linejoin="round" d="M699.7,1204.4 A22.8,21.0 0 0 0 654.9,1201.5 L656.5,1204.6 A19.6,18.4 0 0 1 695.3,1207.1 Z"/>
<path fill="#eaa59c" d="M629,1232.5 C631,1226 645,1226 647,1232.5 C643,1235.5 633,1235.5 629,1232.5 Z"/>
<path fill="none" stroke="#c0675b" stroke-width="1.8" stroke-linecap="round" d="M629,1232 C631,1225.5 645,1225.5 647,1232"/>
<path fill="none" stroke="#a64a40" stroke-width="2.2" stroke-linecap="round" d="M624,1247 C634,1253 653,1252 664,1241 M661.5,1239 C663,1241.5 665,1243 667,1243"/>
<ellipse cx="964" cy="1471.3" rx="100.5" ry="12" fill="#e4eef1"/>
<path fill="#a95f5f" d="M1000,1130 C1030,1135 1046,1160 1047.6,1186 L1046,1232 C1042,1246 1032,1254 1020,1259 L1000,1250 Z"/>
<path fill="#f3cbad" d="M904.2,1326 L899.3,1345.2 L895.5,1364.8 L892.3,1380 C890,1384 887,1387 884.5,1388.8 C883,1390 883.5,1391.5 885.5,1391.8 L891.7,1392 L891.2,1400 C891.2,1403 894.8,1403.5 895.5,1400.5 L898.8,1395.2 L900.3,1403 C900.8,1406 904.5,1406 905,1403 L906.4,1395.2 L909.8,1401.5 C910.8,1404 914,1403.5 913.8,1400.5 L913.5,1395.2 L916.7,1360.4 L921.6,1344.1 L915,1330 Z"/>
<path fill="#f3cbad" d="M1021.7,1326 L1028.3,1347.4 L1032.6,1367 L1034.8,1376.7 C1037,1380 1039.5,1382 1041.2,1383 C1042.8,1384.2 1042.3,1386 1040.3,1386 L1035.9,1385.5 L1035.3,1394.5 C1035.3,1397.5 1031.8,1398 1031.2,1395.5 L1029.9,1389.8 L1027.3,1397.5 C1026.8,1400.5 1023.2,1400.5 1022.8,1397.5 L1021.7,1390.9 L1018,1396 C1017,1399 1013.5,1398.5 1013.7,1395.5 L1012,1388.7 L1009.2,1361.5 L1005.4,1343.6 L1012,1330 Z"/>
<path fill="#67b7e6" d="M913.8,1392 L1012.6,1392 L1008.5,1458 L970.4,1458 L967,1412 L960,1412 L956.3,1458 L918.3,1458 Z"/>
<path fill="#17223a" d="M903,1464 C908,1459 916,1456 923,1456 L955.5,1456 L955,1468 L908,1468 C903,1468 902,1466 903,1464 Z"/>
<path fill="#17223a" d="M971.5,1456 L1004,1456 C1011,1456 1019,1459 1024,1464 C1025,1466 1024,1468 1019,1468 L972,1468 Z"/>
<rect x="945.9" y="1268" width="35.4" height="36" fill="#f3cbad"/>
<rect x="945.9" y="1268" width="35.4" height="20.3" fill="#e89283"/>
<path fill="#b6cb3b" d="M937,1292.3 C928,1293.5 922,1298 918.9,1301.7 L903,1318.5 C901,1320.8 901,1322.5 903,1324.5 L921.6,1344.1 C919,1352 917.5,1357 916.7,1362.6 C915.5,1372 914.8,1380 914.6,1388.7 L913.5,1395.8 C925,1399 940,1400.3 963,1400.3 C986,1400.3 1001,1399 1012.5,1395.8 L1012.5,1388.7 C1012,1380 1010.5,1370 1009.2,1361.5 C1008,1355 1007,1350 1005.4,1343.6 L1024,1324.5 C1026,1322.5 1026,1320.8 1024.3,1318.5 L1008.7,1303.4 C1005,1298 999,1293.5 990.2,1292.3 L982.3,1291.8 C980,1299 973,1302.9 963.6,1302.9 C954,1302.9 947,1299 945,1291.8 Z"/>
<path fill="#f3cbad" d="M889,1185 L889,1235 C889,1262 920,1279.5 957,1279.5 C990,1279.5 1015,1265 1022,1240 L1024,1180 C1020,1150 990,1140 955,1140 C920,1140 889,1155 889,1185 Z"/>
<path fill="#f3cbad" d="M1019.3,1218 C1021,1210 1024,1203 1028,1197 L1037,1192 L1037,1237 L1021,1245 Z"/>
<ellipse cx="1041.5" cy="1214" rx="13.5" ry="24.5" fill="#f3cbad"/>
<path fill="none" stroke="#a95f5f" stroke-width="1.8" stroke-linecap="round" d="M1033,1207 C1039,1203 1046,1206 1047.5,1215 M1043,1208 C1044,1214 1038,1221 1031,1223"/>
<path fill="#a95f5f" d="M855.2,1159.6 C856,1154 862,1149 872.6,1145 C882,1141 890,1133 896,1126 C908,1113 935,1104.8 959.6,1104.8 C990,1104.8 1010,1115 1025,1135 C1037,1150 1046,1170 1047.6,1186 C1040,1186 1033,1190 1028,1197 C1024,1203 1021,1210 1019.3,1217 L1020.4,1188 C1018,1175 1012,1164 1005,1159 C995,1152 980,1150 962,1149.8 C945,1150 930,1158 920,1168 C910,1178 903,1186 892,1190 C880,1192 868,1187 862,1179 C857,1172 855,1165 855.2,1159.6 Z"/>
<path fill="none" stroke="#a95f5f" stroke-width="2.4" stroke-linecap="round" d="M1025.5,1136.7 C1029,1141 1030,1148 1028,1153.5 M1040,1155.2 C1035,1153 1031,1152.5 1028,1153.5"/>
<path fill="none" stroke="#9a5353" stroke-width="5.2" stroke-linecap="round" d="M908,1186 C914,1181.5 923,1180 930,1180.8"/>
<path fill="none" stroke="#9a5353" stroke-width="5.2" stroke-linecap="round" d="M979.5,1180.8 C987,1180 996,1182.5 1002,1188"/>
<circle cx="905.4" cy="1242.9" r="13.8" fill="#f0c1ac"/>
<circle cx="1003.2" cy="1242.9" r="13.8" fill="#f0c1ac"/>
<ellipse cx="920.5" cy="1214.9" rx="20.3" ry="18.6" fill="#ffffff"/>
<circle cx="923.7" cy="1217.7" r="15.4" fill="#1f3540"/>
<circle cx="915.4" cy="1216.0" r="5.4" fill="#ffffff"/>
<path fill="#14233a" stroke="#14233a" stroke-width="0.8" stroke-linejoin="round" d="M896.6,1213.7 A22.8,21.0 0 0 1 941.4,1210.8 L939.8,1213.9 A19.6,18.4 0 0 0 901.0,1216.4 Z"/>
<ellipse cx="989.4" cy="1214.9" rx="20.3" ry="18.6" fill="#ffffff"/>
<circle cx="986.2" cy="1217.7" r="15.4" fill="#1f3540"/>
<circle cx="977.9" cy="1216.0" r="5.4" fill="#ffffff"/>
<path fill="#14233a" stroke="#14233a" stroke-width="0.8" stroke-linejoin="round" d="M1013.3,1213.7 A22.8,21.0 0 0 0 968.5,1210.8 L970.1,1213.9 A19.6,18.4 0 0 1 1008.9,1216.4 Z"/>
<path fill="#eaa59c" d="M943.5,1241.5 C945.5,1235 959.5,1235 961.5,1241.5 C957.5,1244.5 947.5,1244.5 943.5,1241.5 Z"/>
<path fill="none" stroke="#c0675b" stroke-width="1.8" stroke-linecap="round" d="M943.5,1241 C945.5,1234.5 959.5,1234.5 961.5,1241"/>
<path fill="none" stroke="#a64a40" stroke-width="2.2" stroke-linecap="round" d="M938.5,1256.5 C948,1262.5 967,1261.5 978,1250.5 M975.5,1248.5 C977,1251 979,1252.5 981,1252.5"/>
<rect x="705.3" y="1423.2" width="205.5" height="9.6" fill="#d96c1a"/>
<g fill="none" stroke="#a2a2a2" stroke-width="1.3" stroke-dasharray="1.9 2.85">
<path d="M574.1,1163 L574.1,1098 L711.5,1098 L711.5,1156"/>
<path d="M540.4,1465 L540.4,1109.6 L574,1109.6"/>
<path d="M540.4,1465 L587,1465"/>
<path d="M713.7,1107.6 L751,1107.6"/>
<path d="M610,1296 L610,1281 L766.5,1281 M686,1281 L686,1296"/>
<path d="M605,1340 L605,1327.6 L766.5,1327.6"/>
<path d="M597,1378 L597,1360.5 L766.5,1360.5 M702,1360.5 L702,1378"/>
<path d="M595,1389.8 L766.5,1389.8 M704,1389.8 L704,1408"/>
<path d="M891,1160 L891,1096.5 L1023.3,1096.5 L1023.3,1135"/>
<path d="M855,1107.6 L891,1107.6"/>
<path d="M1024.3,1104.8 L1067.2,1104.8 L1067.2,1465.7 L1029,1465.7"/>
<path d="M854.8,1463.5 L898,1463.5"/>
<path d="M853.3,1289.2 L1009.6,1289.2 L1009.6,1303 M914.3,1289.2 L914.3,1303"/>
<path d="M853.3,1327.6 L1006.3,1327.6 L1006.3,1342 M922.2,1327.6 L922.2,1342"/>
<path d="M853.3,1360 L1009.6,1360 L1009.6,1378 M916.5,1360 L916.5,1378"/>
<path d="M853.3,1389.6 L1012.8,1389.6 L1012.8,1407 M914,1389.6 L914,1407"/>
</g>
</g>
<text transform="translate(757.62,1112.70) scale(1.0814,0.9167)" fill="#a4c928" stroke="#a4c928" stroke-width="0.95" stroke-linejoin="round" font-size="15" font-family='"DejaVu Sans", "Liberation Sans", sans-serif'>PERÍMETRO</text>
<text transform="translate(757.94,1130.50) scale(1.0575,0.9417)" fill="#a4c928" stroke="#a4c928" stroke-width="0.95" stroke-linejoin="round" font-size="15" font-family='"DejaVu Sans", "Liberation Sans", sans-serif'>DA CABEÇA</text>
<text transform="translate(778.30,1281.70) scale(1.0754,0.9000)" fill="#d6086b" stroke="#d6086b" stroke-width="0.95" stroke-linejoin="round" font-size="15" font-family='"DejaVu Sans", "Liberation Sans", sans-serif'>OMBRO</text>
<text transform="translate(770.70,1299.20) scale(1.0708,0.8917)" fill="#d6086b" stroke="#d6086b" stroke-width="0.95" stroke-linejoin="round" font-size="15" font-family='"DejaVu Sans", "Liberation Sans", sans-serif'>A OMBRO</text>
<text transform="translate(781.47,1329.45) scale(1.0673,0.8462)" fill="#3f86e0" stroke="#3f86e0" stroke-width="0.95" stroke-linejoin="round" font-size="15" font-family='"DejaVu Sans", "Liberation Sans", sans-serif'>TÓRAX</text>
<text transform="translate(772.40,1357.14) scale(1.0833,0.8615)" fill="#3fa79a" stroke="#3fa79a" stroke-width="0.95" stroke-linejoin="round" font-size="15" font-family='"DejaVu Sans", "Liberation Sans", sans-serif'>CINTURA</text>
<text transform="translate(772.40,1393.90) scale(1.0618,0.9250)" fill="#e07a1f" stroke="#e07a1f" stroke-width="0.95" stroke-linejoin="round" font-size="15" font-family='"DejaVu Sans", "Liberation Sans", sans-serif'>QUADRIL</text>
<g transform="translate(536.8,1316.6) rotate(-90)"><text transform="translate(0.00,-0.87) scale(1.1228,0.8692)" fill="#e2553d" stroke="#e2553d" stroke-width="0.75" stroke-linejoin="round" font-size="15" font-family='"DejaVu Sans", "Liberation Sans", sans-serif'>ALTURA</text></g>
<g transform="translate(1074.2,1244) rotate(90)"><text transform="translate(0.00,-0.91) scale(1.1175,0.9077)" fill="#e2553d" stroke="#e2553d" stroke-width="0.75" stroke-linejoin="round" font-size="15" font-family='"DejaVu Sans", "Liberation Sans", sans-serif'>ALTURA</text></g>
</svg>
</body>
</html>
